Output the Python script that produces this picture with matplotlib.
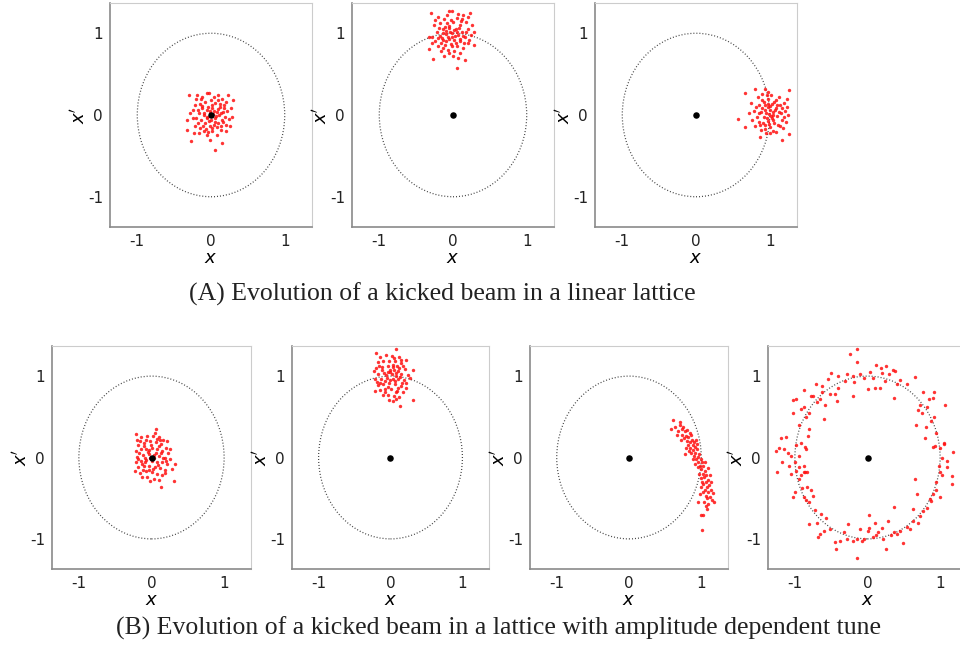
import numpy as np
import matplotlib
matplotlib.use("Agg")
import matplotlib.pyplot as plt
from matplotlib.patches import Circle

plt.rcParams['axes.unicode_minus'] = False
plt.rcParams['mathtext.fontset'] = 'dejavusans'

tick_vals = [-1, 0, 1]
tick_labels = ["-1", "0", "1"]
caption_a = "(A) Evolution of a kicked beam in a linear lattice"
caption_b = "(B) Evolution of a kicked beam in a lattice with amplitude dependent tune"

a1_pts = [(-0.30,0.25),(0.05,-0.43),(-0.27,-0.32),(0.15,-0.34),(0.30,0.18),(0.23,0.25),(-0.06,0.27),(-0.03,0.27),
(-0.33,-0.18),(-0.33,-0.06),(0.26,-0.14),(0.27,0.09),(-0.20,0.20),(-0.12,0.22),(0.10,0.24),(0.15,0.20),(0.18,0.12),
(0.22,0.05),(0.24,-0.05),(0.20,-0.12),(0.14,-0.18),(0.08,-0.24),(0.02,-0.20),(-0.05,-0.25),(-0.10,-0.20),(-0.16,-0.22),
(-0.22,-0.14),(-0.25,-0.04),(-0.24,0.06),(-0.22,0.12),(-0.15,0.14),(-0.08,0.16),(0.00,0.18),(0.06,0.15),(0.12,0.10),
(0.16,0.04),(0.15,-0.06),(0.10,-0.10),(0.04,-0.12),(-0.02,-0.14),(-0.08,-0.10),(-0.14,-0.06),(-0.16,0.02),(-0.12,0.08),
(-0.06,0.06),(0.02,0.08),(0.08,0.04),(0.06,-0.04),(0.00,-0.06),(-0.05,-0.02),(-0.02,0.02),(0.03,0.01),(-0.10,0.00),
(0.11,0.00),(-0.04,0.10),(0.05,-0.08),(-0.18,-0.10),(0.19,-0.02),(-0.07,-0.17),(0.09,0.18),(-0.13,0.19),(0.13,-0.14),
(-0.20,-0.04),(0.20,0.16),(-0.01,-0.30),(0.04,0.22),(-0.28,0.02),(0.28,-0.02),(-0.17,0.06),(0.16,-0.09),(-0.09,0.03),
(0.07,-0.01),(-0.03,-0.07),(0.01,0.12),(-0.11,-0.13),(0.12,0.14),(-0.06,-0.04),(0.04,0.05),(-0.15,-0.16),(0.17,0.08),
(-0.23,-0.22),(0.21,-0.20),(-0.19,0.24),(0.02,-0.16),(-0.01,0.05),(0.08,-0.15),(-0.12,0.11),(0.10,0.07),(-0.04,-0.21),(0.14,0.02)]

a2_pts = [(-0.30,1.25),(-0.06,1.27),(0.23,1.25),(-0.27,0.68),(0.05,0.57),(0.16,0.67),(0.28,0.86),(-0.33,0.81),(-0.32,0.95),
(-0.02,1.27),(0.14,1.22),(-0.20,1.20),(-0.12,1.18),(0.05,1.19),(0.18,1.14),(0.26,1.10),(-0.26,1.10),(-0.17,1.12),
(-0.08,1.12),(0.00,1.14),(0.10,1.10),(0.21,1.05),(-0.22,1.02),(-0.14,1.05),(-0.05,1.06),(0.04,1.05),(0.12,1.02),
(0.24,0.98),(-0.28,0.96),(-0.18,0.97),(-0.10,0.99),(-0.02,1.00),(0.07,0.98),(0.16,0.95),(-0.24,0.90),(-0.14,0.92),
(-0.06,0.93),(0.02,0.92),(0.10,0.90),(0.20,0.88),(-0.20,0.84),(-0.11,0.86),(-0.03,0.87),(0.06,0.84),(0.14,0.82),
(-0.16,0.78),(-0.07,0.80),(0.02,0.78),(0.10,0.76),(-0.12,0.72),(0.00,0.72),(0.07,0.70),(-0.09,1.03),(-0.04,1.02),
(0.01,1.04),(-0.13,1.00),(-0.07,0.96),(0.03,0.97),(-0.11,1.08),(0.08,1.07),(-0.15,0.94),(0.13,0.97),(-0.01,0.96),
(-0.05,1.09),(0.05,1.01),(-0.09,0.90),(0.09,0.93),(-0.19,1.06),(0.17,1.02),(-0.03,1.16),(0.11,1.15),(-0.24,1.16),
(0.20,1.20),(-0.16,0.88),(0.15,0.88),(-0.01,0.84),(-0.29,0.88),(0.28,1.02),(-0.08,1.22),(0.07,1.24),(-0.13,0.82),
(0.04,0.88),(-0.21,0.94),(0.22,0.92),(-0.06,0.76),(0.12,1.18)]

a3_pts = [(0.57,-0.05),(0.67,-0.15),(0.67,0.27),(0.80,0.32),(0.94,0.32),(1.26,0.30),(1.26,-0.23),(1.17,-0.30),(0.87,-0.27),
(1.05,-0.19),(0.75,0.15),(0.78,0.05),(0.76,-0.06),(0.80,-0.14),(0.84,0.22),(0.86,0.12),(0.85,0.02),(0.86,-0.08),
(0.88,-0.18),(0.90,0.26),(0.92,0.16),(0.93,0.06),(0.92,-0.03),(0.94,-0.12),(0.95,-0.22),(0.97,0.20),(0.98,0.10),
(0.99,0.01),(0.98,-0.07),(1.00,-0.15),(1.02,0.24),(1.03,0.14),(1.04,0.04),(1.03,-0.04),(1.06,-0.10),(1.08,0.18),
(1.09,0.08),(1.10,-0.01),(1.11,-0.12),(1.13,0.22),(1.14,0.12),(1.15,0.03),(1.16,-0.06),(1.18,-0.16),(1.20,0.15),
(1.21,0.05),(1.22,-0.08),(1.24,0.20),(1.25,0.00),(0.90,0.08),(0.95,0.03),(1.00,0.06),(1.05,0.00),(0.96,-0.04),
(1.01,0.11),(0.91,-0.10),(1.07,0.06),(0.99,-0.11),(0.93,0.12),(1.04,-0.06),(0.88,0.04),(1.12,0.04),(0.97,0.14),
(1.02,-0.01),(0.83,-0.02),(1.17,0.09),(0.96,0.24),(1.08,-0.21),(0.82,0.10),(1.19,-0.03),(0.94,-0.17),(1.06,0.16),
(0.89,0.18),(1.10,0.12),(1.01,-0.22),(0.72,0.02),(1.23,0.10),(0.98,0.28),(0.87,-0.12),(1.14,-0.13)]

b1_pts = [(-0.21,0.29),(0.06,0.35),(0.33,-0.08),(0.31,-0.29),(0.13,-0.36),(-0.02,-0.29),(-0.13,-0.24),(-0.23,-0.16),(0.22,0.20),
(-0.20,0.22),(-0.14,0.25),(-0.06,0.26),(0.02,0.27),(0.10,0.25),(0.16,0.22),(-0.18,0.15),(-0.10,0.18),(-0.02,0.20),
(0.06,0.19),(0.13,0.16),(0.20,0.12),(-0.22,0.08),(-0.15,0.10),(-0.07,0.11),(0.01,0.12),(0.08,0.10),(0.15,0.08),
(0.23,0.05),(-0.20,0.01),(-0.12,0.03),(-0.04,0.04),(0.04,0.03),(0.11,0.02),(0.18,0.00),(0.26,-0.02),(-0.22,-0.06),
(-0.15,-0.04),(-0.07,-0.03),(0.00,-0.04),(0.07,-0.05),(0.14,-0.06),(0.21,-0.08),(-0.18,-0.12),(-0.10,-0.10),
(-0.03,-0.11),(0.05,-0.12),(0.12,-0.13),(0.19,-0.15),(-0.16,-0.19),(-0.08,-0.17),(0.00,-0.18),(0.08,-0.20),
(0.15,-0.22),(-0.06,-0.24),(0.04,-0.26),(0.10,-0.28),(-0.02,0.00),(0.03,-0.01),(-0.05,0.07),(0.06,0.06),(-0.09,-0.06),
(0.09,-0.09),(-0.11,0.14),(0.12,0.21),(-0.13,-0.08),(0.16,-0.01),(-0.01,0.15),(0.02,-0.14),(-0.17,0.05),(0.25,0.10),
(-0.04,-0.15),(0.10,0.14),(-0.19,-0.02),(0.07,0.23),(-0.08,0.21),(0.18,-0.19),(0.28,-0.14),(-0.12,-0.15),(0.13,0.05),
(-0.03,0.09),(0.05,0.30),(-0.16,0.20),(0.20,-0.04),(-0.09,0.00)]

b2_pts = [(-0.20,1.28),(0.07,1.33),(0.22,1.20),(0.31,1.08),(0.31,0.71),(0.13,0.63),(-0.02,0.71),(-0.21,0.82),(-0.23,1.06),
(-0.14,1.24),(-0.06,1.26),(0.02,1.25),(0.12,1.24),(-0.18,1.17),(-0.10,1.18),(-0.02,1.19),(0.06,1.18),(0.14,1.16),
(-0.20,1.10),(-0.12,1.11),(-0.04,1.12),(0.04,1.11),(0.12,1.10),(0.20,1.09),(-0.17,1.03),(-0.09,1.04),(-0.01,1.05),
(0.07,1.04),(0.15,1.03),(0.24,1.01),(-0.21,0.96),(-0.13,0.97),(-0.05,0.98),(0.03,0.97),(0.11,0.96),(0.19,0.95),
(-0.18,0.89),(-0.10,0.90),(-0.02,0.91),(0.06,0.90),(0.14,0.88),(0.22,0.86),(-0.15,0.83),(-0.07,0.84),(0.01,0.84),
(0.09,0.82),(0.17,0.80),(-0.11,0.77),(-0.03,0.77),(0.05,0.76),(0.12,0.74),(0.03,0.69),(0.05,1.07),(0.08,1.00),
(0.02,1.02),(0.10,1.06),(-0.06,1.01),(0.06,0.94),(-0.01,0.95),(0.13,0.99),(-0.08,0.94),(0.04,1.14),(0.09,1.13),
(-0.15,0.91),(0.16,0.92),(-0.03,0.87),(0.00,1.08),(0.11,0.86),(-0.12,1.07),(0.18,1.12),(-0.19,0.93),(0.27,0.98),
(-0.08,0.80),(0.07,0.80),(0.05,1.22),(-0.04,1.05),(0.14,1.20),(-0.16,1.13),(0.21,0.91),(0.08,0.72)]

b3_pts = [(0.61,0.46),(0.58,0.35),(0.71,0.44),(0.78,0.04),(1.01,-0.89),(1.00,-0.71),(1.02,-0.71),(1.17,-0.55),(1.08,-0.63),
(0.96,-0.55),(0.64,0.38),(0.68,0.33),(0.70,0.40),(0.73,0.35),(0.74,0.28),(0.77,0.32),(0.76,0.24),(0.79,0.27),
(0.80,0.20),(0.82,0.25),(0.81,0.15),(0.84,0.19),(0.85,0.12),(0.87,0.22),(0.86,0.06),(0.88,0.15),(0.89,0.09),
(0.90,0.02),(0.91,0.13),(0.92,0.05),(0.93,-0.02),(0.94,0.10),(0.95,0.01),(0.96,-0.06),(0.97,0.04),(0.98,-0.10),
(0.99,-0.02),(1.00,-0.14),(1.01,-0.05),(1.02,-0.20),(1.00,-0.25),(1.03,-0.10),(1.04,-0.24),(1.05,-0.16),(1.06,-0.30),
(1.03,-0.33),(1.07,-0.22),(1.08,-0.36),(1.05,-0.40),(1.09,-0.28),(1.10,-0.42),(1.06,-0.47),(1.11,-0.34),(1.12,-0.48),
(1.08,-0.50),(1.14,-0.40),(1.15,-0.52),(1.10,-0.57),(1.04,-0.55),(0.99,-0.36),(0.97,-0.20),(0.95,-0.12),(0.90,0.19),
(0.86,0.28),(0.83,0.08),(0.79,0.12),(0.72,0.22),(0.66,0.28),(0.92,-0.08),(1.01,-0.30),(1.13,-0.30),(1.16,-0.44),
(0.88,-0.02),(0.80,0.34),(0.75,0.38),(1.02,-0.42),(1.07,-0.60),(0.94,0.16),(1.09,-0.13),(0.98,-0.45),(1.05,-0.06),
(0.84,0.30),(1.12,-0.22),(0.93,0.22)]

b4_pts = [(-0.14,1.33),(-0.24,1.27),(-0.14,1.17),(0.12,1.14),(0.26,1.12),(0.38,1.06),(0.65,0.99),(-0.50,1.04),(-0.31,0.94),
(0.00,0.84),(0.10,0.86),(-0.20,1.00),(-0.10,1.02),(-0.05,0.98),(0.04,1.05),(0.20,1.04),(0.30,1.03),(0.45,0.95),
(0.40,0.90),(-0.40,1.00),(-0.55,0.97),(-0.63,0.88),(-0.28,1.02),(0.07,0.98),(0.17,0.86),(-0.20,0.76),(0.55,0.90),
(0.36,0.73),(-0.18,0.93),(0.24,0.94),(0.35,1.08),(0.18,1.10),
(0.76,0.80),(0.92,0.80),(1.07,0.64),(0.90,0.73),(0.72,0.65),(0.67,0.40),(0.79,0.24),(0.93,0.14),(1.05,0.18),
(1.18,0.07),(1.09,-0.04),(1.17,-0.23),(1.17,-0.33),(1.00,-0.49),(0.86,-0.51),(0.63,-0.63),(0.65,-0.27),(0.70,0.58),
(0.75,0.55),(0.82,0.62),(0.88,0.45),(0.80,0.38),(0.95,0.30),(1.00,0.12),(1.02,0.00),(0.98,-0.10),(1.00,-0.18),
(1.02,-0.22),(0.95,-0.30),(1.10,-0.12),(0.94,-0.40),(0.90,-0.45),(0.88,-0.54),(0.82,-0.62),(0.76,-0.66),(0.72,-0.72),
(0.70,-0.80),(0.62,-0.78),(0.92,0.50),(0.85,0.72),(1.05,0.16),(0.90,0.13),(0.68,-0.45),
(0.49,-1.05),(0.26,-1.13),(-0.15,-1.24),(0.36,-0.61),(0.02,-0.71),(-0.27,-0.82),(0.55,-0.85),(0.45,-0.90),(0.40,-0.94),
(0.32,-0.95),(0.28,-0.78),(0.20,-0.87),(0.15,-0.92),(0.12,-0.95),(0.08,-0.98),(0.01,-0.90),(0.02,-0.87),(-0.05,-1.00),
(-0.08,-1.02),(-0.15,-1.00),(-0.20,-1.02),(-0.28,-1.00),(-0.33,-0.92),(-0.38,-1.02),(-0.45,-1.04),(-0.52,-0.88),
(-0.60,-0.90),(0.58,-0.88),(0.10,-0.80),(-0.10,-0.88),(0.22,-1.00),(0.36,-0.92),
(-0.43,-1.13),(-0.66,-0.94),(-0.80,-0.82),(-0.64,-0.69),(-0.75,-0.47),(-0.70,-0.80),(-0.72,-0.65),(-0.80,-0.55),
(-0.85,-0.52),(-0.88,-0.48),(-0.83,-0.36),(-0.90,-0.38),(-0.78,-0.40),(-1.00,-0.43),(-1.02,-0.48),(-0.92,-0.22),
(-0.95,-0.26),(-1.05,-0.20),(-1.24,-0.18),(-0.57,-0.74),(-0.68,-0.98),
(-1.26,0.08),(-1.19,0.24),(-0.87,-0.10),(-0.84,0.10),(-0.94,0.02),(-1.00,-0.05),(-1.05,0.02),(-1.10,0.05),(-1.15,0.10),
(-1.22,0.12),(-1.18,-0.05),(-0.98,0.15),(-0.92,0.18),(-0.86,-0.18),(-0.88,-0.18),(-1.08,-0.10),(-0.98,-0.17),
(-0.83,-0.18),(-1.12,0.25),(-0.82,0.26),(-0.86,0.13),(-0.95,-0.12),
(-1.03,0.55),(-1.03,0.71),(-0.87,0.83),(-0.71,0.90),(-0.88,0.62),(-0.80,0.55),(-0.85,0.50),(-0.75,0.75),(-0.70,0.68),
(-0.65,0.72),(-0.62,0.80),(-0.58,0.64),(-0.52,0.78),(-0.45,0.78),(-0.42,0.70),(-0.40,0.85),(-0.60,0.47),(-0.80,0.35),
(-0.95,0.40),(-0.78,0.75),(-0.98,0.72),(-0.92,0.60)]

W, H = 960, 655
fig = plt.figure(figsize=(W/100, H/100), dpi=100)

def px_axes(left, top, right, bottom):
    return fig.add_axes([left/W, 1 - bottom/H, (right-left)/W, (bottom-top)/H])

panels = [
    (a1_pts, (110, 3, 312, 227)),
    (a2_pts, (352, 3, 554, 227)),
    (a3_pts, (595, 3, 797, 227)),
    (b1_pts, (52, 346, 251, 569)),
    (b2_pts, (292, 346, 489, 569)),
    (b3_pts, (530, 346, 728, 569)),
    (b4_pts, (768, 346, 967, 569)),
]

lim = 1.37
for pts, box in panels:
    ax = px_axes(*box)
    arr = np.array(pts)
    ax.add_patch(Circle((0, 0), 1, fill=False, linestyle=(0, (0.8, 1.6)),
                        linewidth=0.9, edgecolor='#444444', zorder=1))
    ax.scatter(arr[:, 0], arr[:, 1], s=6, color='#ff1010', alpha=0.85,
               linewidths=0, zorder=2)
    ax.scatter([0], [0], s=22, color='black', linewidths=0, zorder=3)
    ax.set_xlim(-lim, lim)
    ax.set_ylim(-lim, lim)
    ax.set_xticks(tick_vals)
    ax.set_xticklabels(tick_labels)
    ax.set_yticks(tick_vals)
    ax.set_yticklabels(tick_labels)
    ax.tick_params(length=0, labelsize=11, pad=5, colors='#222222')
    ax.set_xlabel('$x$', fontsize=13, labelpad=0)
    ax.set_ylabel("$x'$", fontsize=13, labelpad=-0.5)
    for s in ['left', 'bottom']:
        ax.spines[s].set_color('#8a8a8a')
        ax.spines[s].set_linewidth(1.2)
    for s in ['top', 'right']:
        ax.spines[s].set_color('#cccccc')
        ax.spines[s].set_linewidth(0.8)

fig.text(442/W, 1 - 301/H, caption_a, ha='center', va='baseline',
         fontsize=18.5, family='Liberation Serif', color='#222222')
fig.text(499/W, 1 - 635/H, caption_b, ha='center', va='baseline',
         fontsize=18.5, family='Liberation Serif', color='#222222')

fig.savefig('out.png', dpi=100)
